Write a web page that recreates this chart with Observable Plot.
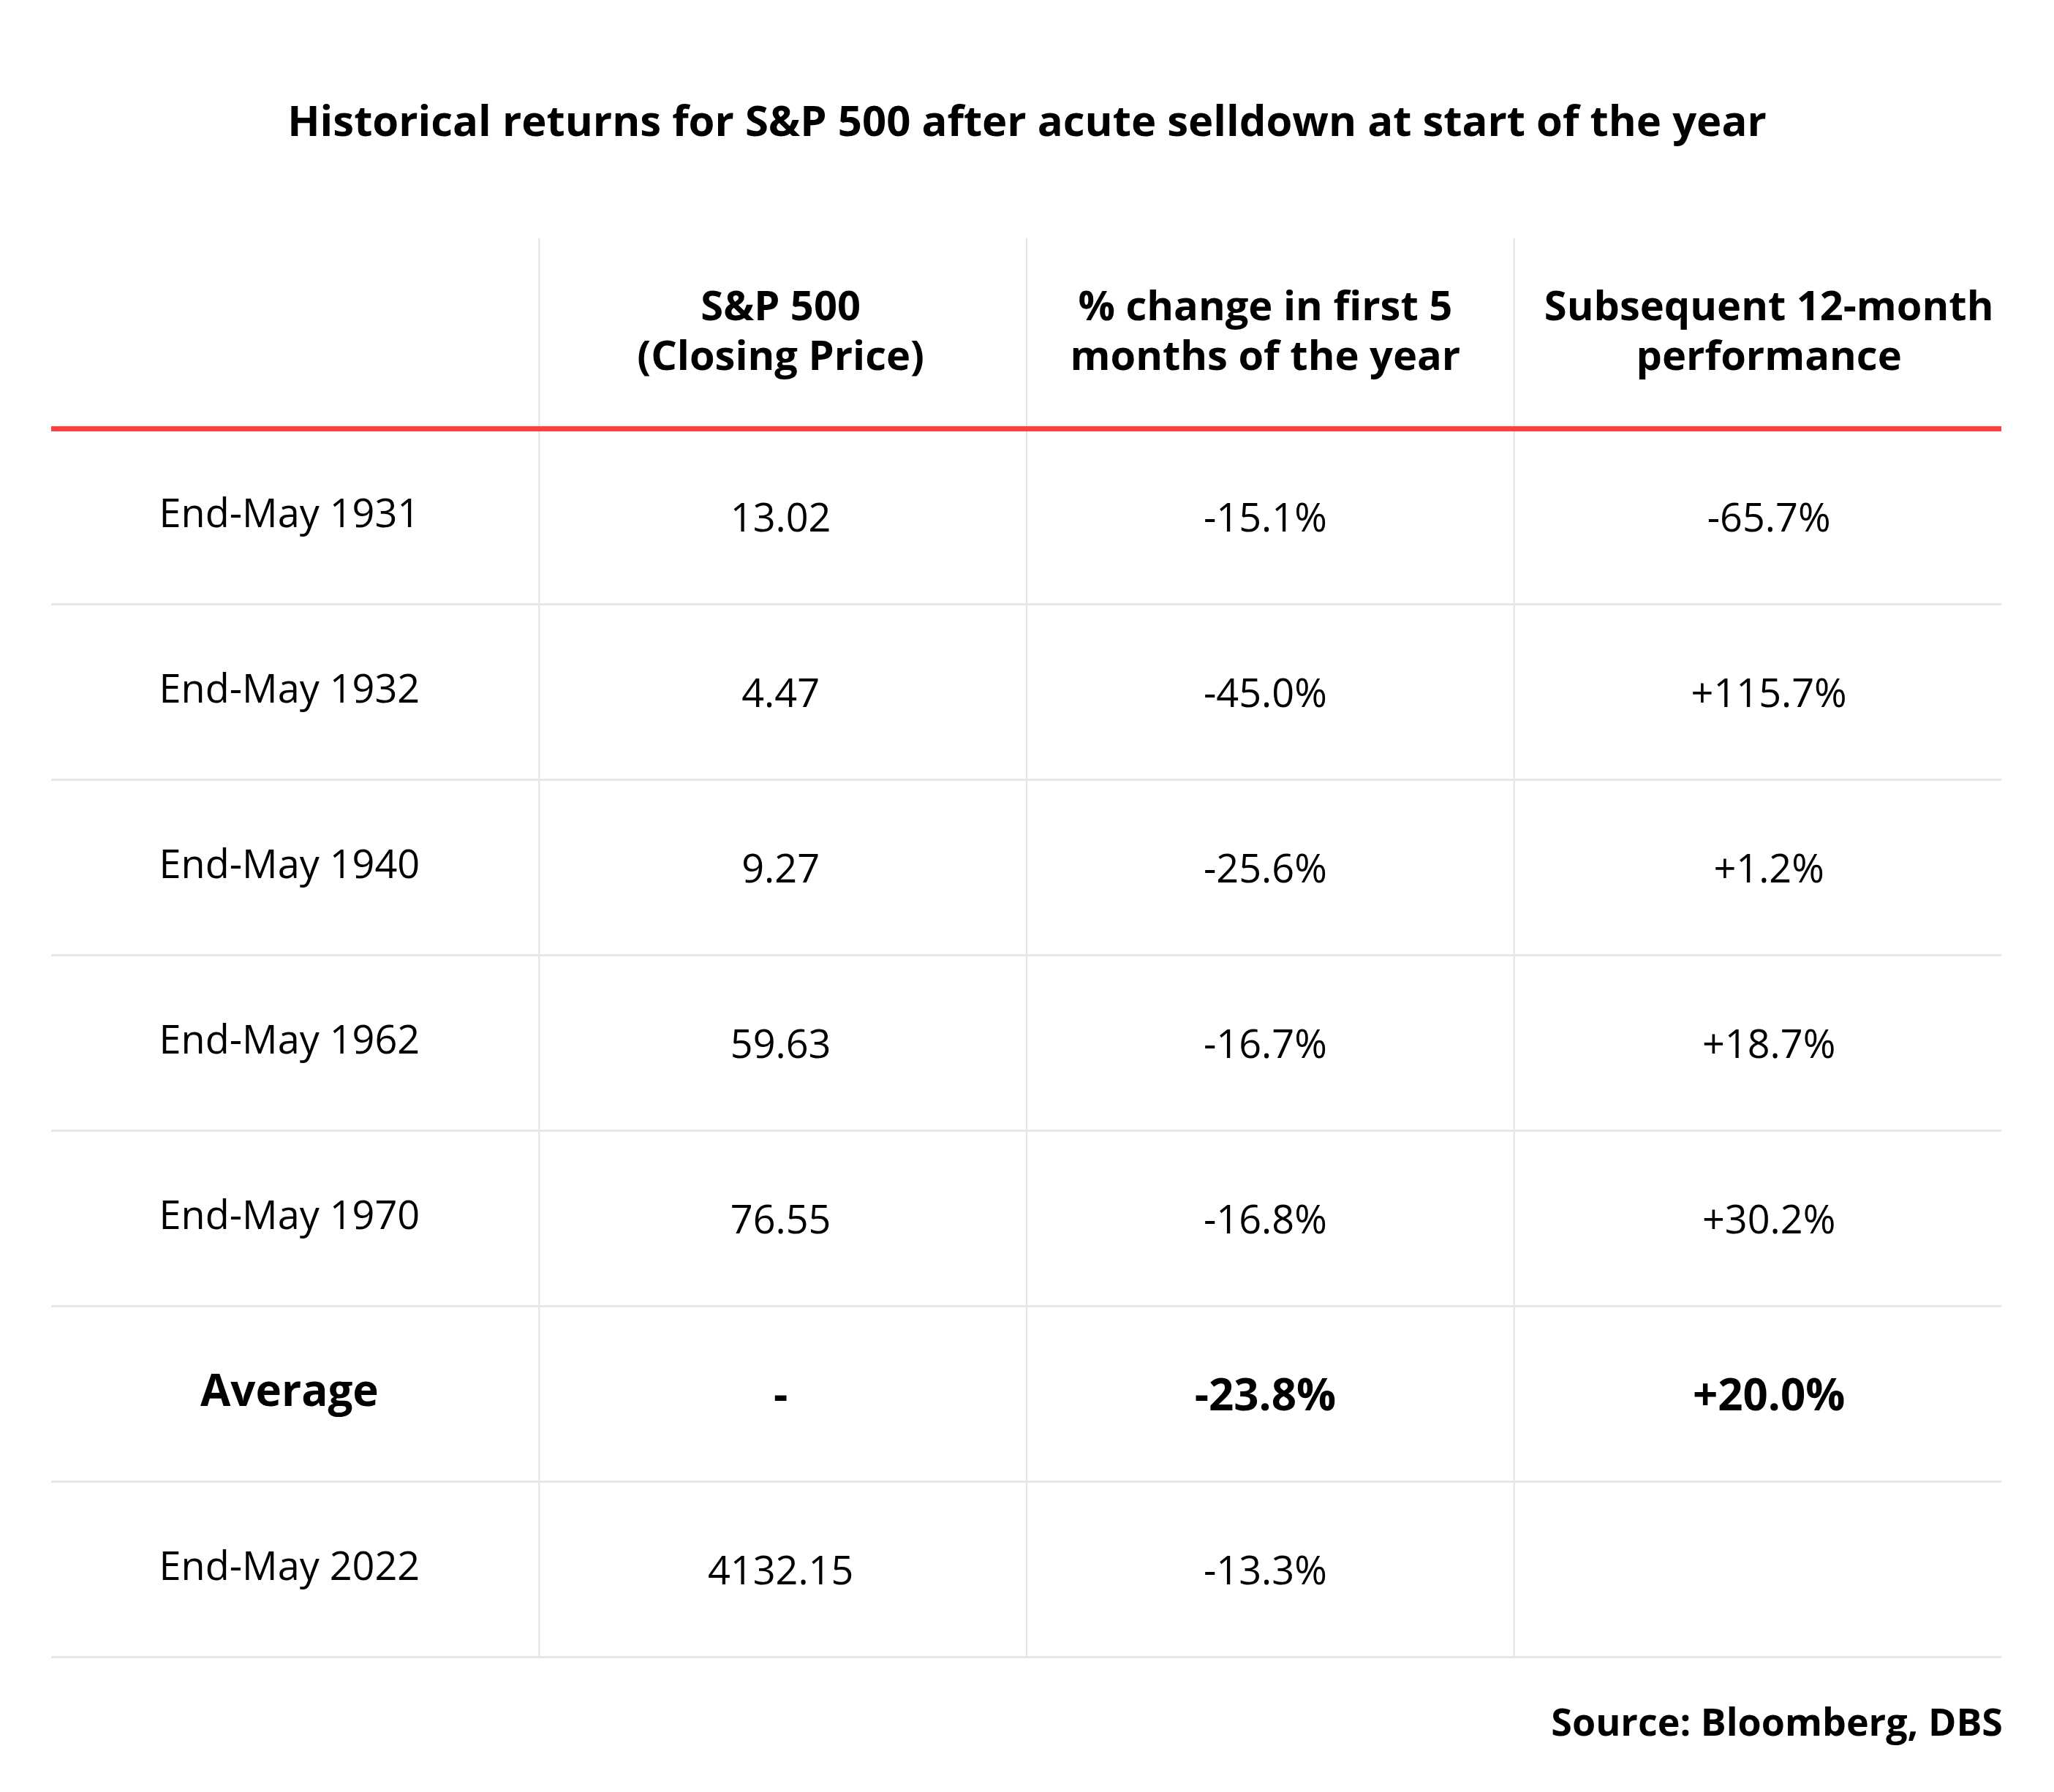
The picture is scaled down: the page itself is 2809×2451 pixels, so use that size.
<!DOCTYPE html>
<html><head><meta charset="utf-8">
<script src="https://cdn.jsdelivr.net/npm/d3@7"></script>
<script src="https://cdn.jsdelivr.net/npm/@observablehq/plot@0.6"></script>
<style>
body{margin:0;background:#fff;font-family:"Open Sans",sans-serif;color:#000;}
#wrap{position:relative;width:2809px;height:2451px;overflow:hidden;}
#title{position:absolute;left:0;width:2809px;top:135px;text-align:center;font-weight:700;font-size:58px;line-height:58px;white-space:nowrap;}
#chart{position:absolute;left:0;top:300px;}
#source{position:absolute;right:70px;top:2328px;font-weight:700;font-size:52px;line-height:52px;white-space:nowrap;}
</style></head>
<body>
<div id="wrap">
<div id="title">Historical returns for S&amp;P 500 after acute selldown at start of the year</div>
<div id="chart"></div>
<div id="source">Source: Bloomberg, DBS</div>
</div>
<script>
const headers = ["", "S&P 500\n(Closing Price)", "% change in first 5\nmonths of the year", "Subsequent 12-month\nperformance"];
const periods = ["End-May 1931", "End-May 1932", "End-May 1940", "End-May 1962", "End-May 1970", "Average", "End-May 2022"];
const closingPrice = ["13.02", "4.47", "9.27", "59.63", "76.55", "-", "4132.15"];
const change5m = ["-15.1%", "-45.0%", "-25.6%", "-16.7%", "-16.8%", "-23.8%", "-13.3%"];
const next12m = ["-65.7%", "+115.7%", "+1.2%", "+18.7%", "+30.2%", "+20.0%", ""];
const boldRows = ["Average"];

// layout (not data)
const headerWeight = 13 / 12; // header row is taller than body rows
const colDx = [-8, -3, -7, 15];
const colDy = [-3, 3, 3, 3];

const nRows = periods.length;
const nCols = headers.length;
const total = headerWeight + nRows;

const headerCells = headers.map((t, c) => ({col: c, row: headerWeight / 2, text: t}));
const bodyCells = [];
periods.forEach((p, i) => {
  const vals = [p, closingPrice[i], change5m[i], next12m[i]];
  vals.forEach((t, c) => bodyCells.push({col: c, row: headerWeight + i + 0.5, text: t, bold: boldRows.includes(p)}));
});
const rowBottoms = periods.map((p, i) => headerWeight + i + 1);

const textMarks = [];
for (let c = 0; c < nCols; c++) {
  textMarks.push(Plot.text(headerCells.filter(d => d.col === c), {x: d => d.col + 0.5, y: "row", text: "text", fontWeight: 700, fontSize: 56, lineHeight: 1.21, fill: "#000", dx: colDx[c], dy: -6}));
  textMarks.push(Plot.text(bodyCells.filter(d => d.col === c && !d.bold), {x: d => d.col + 0.5, y: "row", text: "text", fontWeight: 400, fontSize: 54, fill: "#000", dx: colDx[c], dy: colDy[c]}));
  textMarks.push(Plot.text(bodyCells.filter(d => d.col === c && d.bold), {x: d => d.col + 0.5, y: "row", text: "text", fontWeight: 700, fontSize: 60, fill: "#000", dx: colDx[c], dy: colDy[c]}));
}

const chart = Plot.plot({
  width: 2809,
  height: 2000,
  marginTop: 26,
  marginBottom: 34,
  marginLeft: 70,
  marginRight: 72,
  x: {domain: [0, nCols], axis: null},
  y: {domain: [0, total], reverse: true, axis: null},
  style: {fontFamily: "'Open Sans', sans-serif", background: "#fff", color: "#000", overflow: "visible"},
  marks: [
    Plot.ruleX([1, 2, 3], {y1: 0, y2: total, stroke: "#e3e3e3", strokeWidth: 2}),
    Plot.ruleY(rowBottoms, {x1: 0, x2: nCols, stroke: "#e6e6e6", strokeWidth: 3}),
    Plot.ruleY([headerWeight], {x1: 0, x2: nCols, stroke: "#ff4040", strokeWidth: 7}),
    ...textMarks
  ]
});
document.getElementById("chart").appendChild(chart);
</script>
</body></html>
